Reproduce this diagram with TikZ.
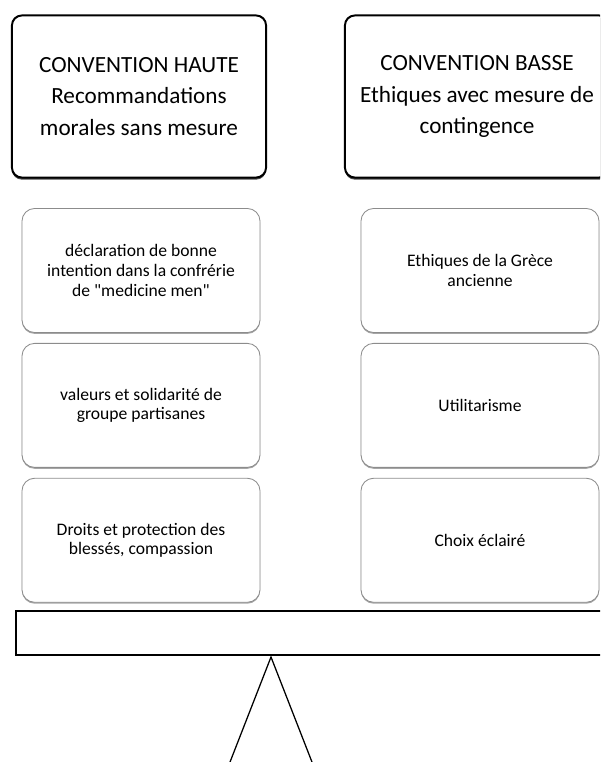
\documentclass[tikz,border=0pt]{standalone}
\usepackage{fontspec}
\setmainfont{Carlito}
\usetikzlibrary{positioning}
\usetikzlibrary{shadows}
\tikzset{head/.style = {draw, line width=1.4pt, rounded corners=7pt, fill=white,
                        minimum width=6.35cm, minimum height=4.05cm, align=center,
                        font=\fontsize{16.5}{22.5}\selectfont,
                        drop shadow={shadow xshift=0pt, shadow yshift=-1.5pt, fill=black!70, opacity=1}}}
\tikzset{item/.style = {draw=black!45, line width=0.6pt, rounded corners=9pt, fill=white,
                        minimum width=5.95cm, minimum height=3.1cm, align=center,
                        font=\fontsize{12.5}{14}\selectfont,
                        drop shadow={shadow xshift=0pt, shadow yshift=-1pt, fill=black!35, opacity=1}}}
\tikzset{beamstyle/.style = {draw, line width=1.6pt, fill=white, minimum width=16cm, minimum height=1.1cm,
                        anchor=north west, inner sep=0}}

\begin{document}
\begin{tikzpicture}[x=0.025cm, y=-0.025cm]
    \useasboundingbox (0, 0) rectangle (600, 762);
    \clip (0, 0) rectangle (600, 762);

    \node [head] (headL) at (139, 96.5) {CONVENTION HAUTE\\Recommandations\\morales sans mesure};
    \node [head, minimum width=6.6cm] (headR) at (477, 96.5) {CONVENTION BASSE\\Ethiques avec mesure de\\contingence};

    \node [item] (l1) at (141, 270.5) {déclaration de bonne\\intention dans la confrérie\\de \textquotedbl medicine men\textquotedbl};
    \node [item, below=0.25cm of l1] (l2) {valeurs et solidarité de\\groupe partisanes};
    \node [item, below=0.25cm of l2] (l3) {Droits et protection des\\blessés, compassion};

    \node [item] (r1) at (480, 270.5) {Ethiques de la Grèce\\ancienne};
    \node [item, below=0.25cm of r1] (r2) {Utilitarisme};
    \node [item, below=0.25cm of r2] (r3) {Choix éclairé};

    \node [beamstyle] (beam) at (15, 610) {};

    \coordinate (apex) at (271, 657);
    \draw [line width=0.9pt] (223, 780) -- (apex) -- (319, 780);
  \end{tikzpicture}
\end{document}
